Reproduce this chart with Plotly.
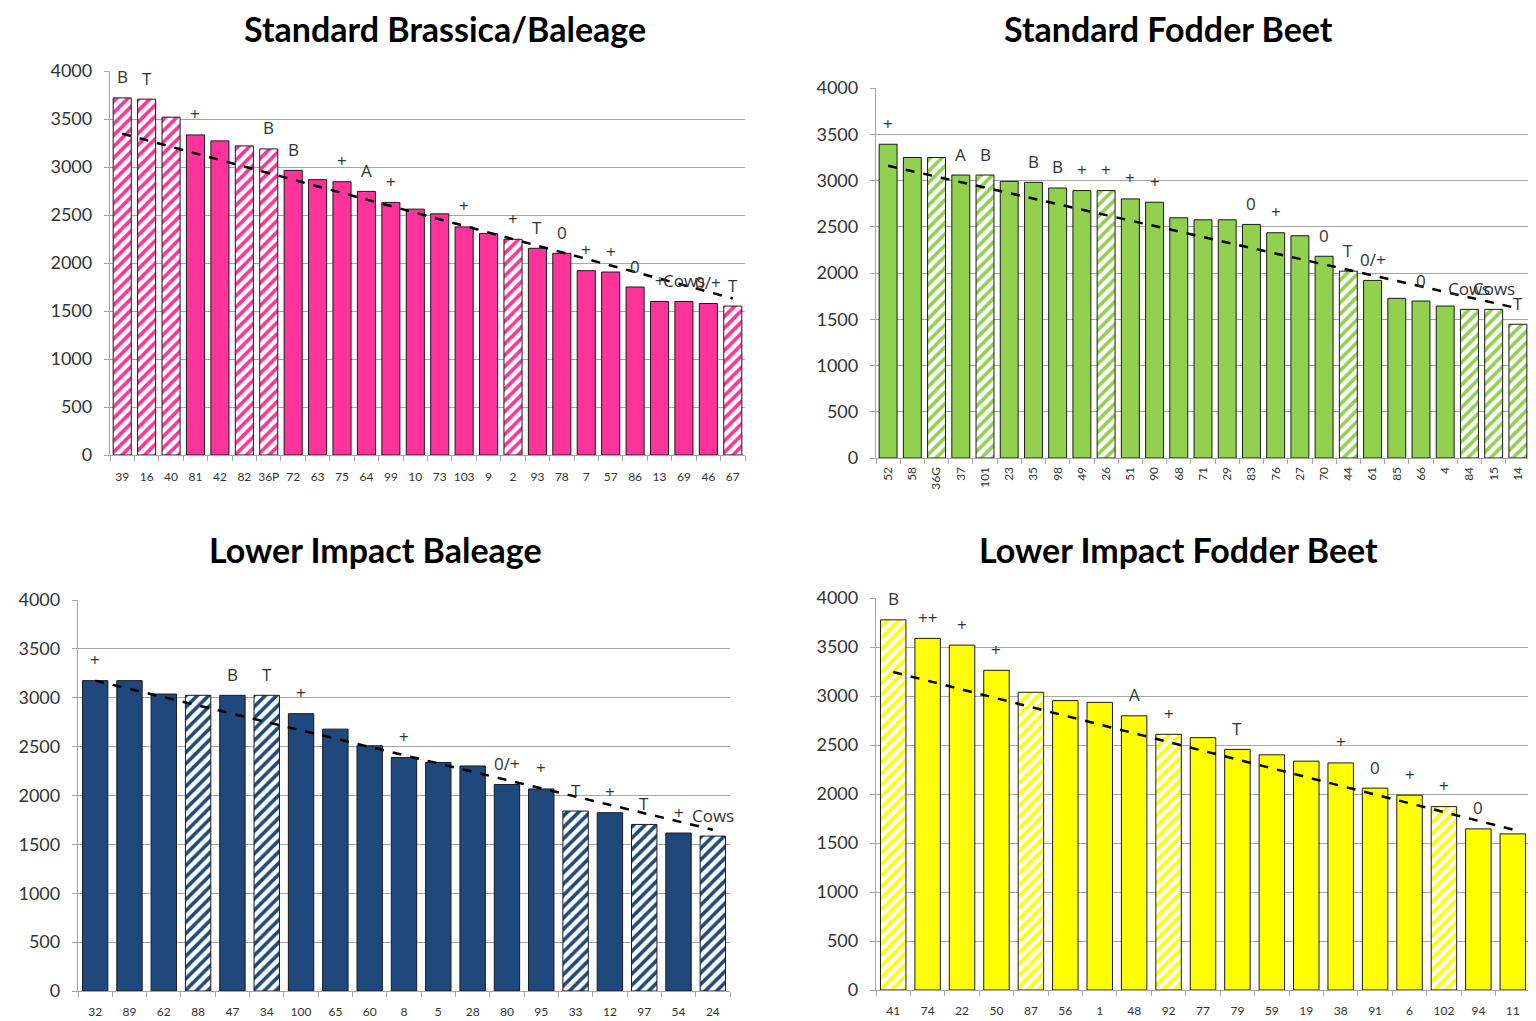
import plotly.graph_objects as go

# ---------------- data ----------------
tl_title = "Standard Brassica/Baleage"
tl_cats = ["39", "16", "40", "81", "42", "82", "36P", "72", "63", "75", "64", "99", "10",
           "73", "103", "9", "2", "93", "78", "7", "57", "86", "13", "69", "46", "67"]
tl_vals = [3720, 3707, 3519, 3334, 3272, 3220, 3188, 2965, 2868, 2847, 2746, 2631, 2561,
           2512, 2376, 2307, 2247, 2153, 2101, 1920, 1906, 1750, 1599, 1599, 1578, 1551]
tl_hatch = [1, 1, 1, 0, 0, 1, 1, 0, 0, 0, 0, 0, 0,
            0, 0, 0, 1, 0, 0, 0, 0, 0, 0, 0, 0, 1]
tl_marks = ["B", "T", "", "+", "", "", "B", "B", "", "+", "A", "+", "",
            "", "+", "", "+", "T", "0", "+", "+", "0", "+", "Cows", "0/+", "T"]
tl_trend = [3348, 1631]

tr_title = "Standard Fodder Beet"
tr_cats = ["52", "58", "36G", "37", "101", "23", "35", "98", "49", "26", "51", "90", "68", "71",
           "29", "83", "76", "27", "70", "44", "61", "85", "66", "4", "84", "15", "14"]
tr_vals = [3392, 3249, 3249, 3059, 3059, 2991, 2980, 2919, 2891, 2891, 2801, 2765, 2597, 2575,
           2575, 2525, 2435, 2403, 2181, 2020, 1920, 1726, 1697, 1643, 1607, 1607, 1446]
tr_hatch = [0, 0, 1, 0, 1, 0, 0, 0, 0, 1, 0, 0, 0, 0,
            0, 0, 0, 0, 0, 1, 0, 0, 0, 0, 1, 1, 1]
tr_marks = ["+", "", "", "A", "B", "", "B", "B", "+", "+", "+", "+", "", "",
            "", "0", "+", "", "0", "T", "0/+", "", "0", "", "Cows", "Cows", "T"]
tr_trend = [3160, 1618]

bl_title = "Lower Impact Baleage"
bl_cats = ["32", "89", "62", "88", "47", "34", "100", "65", "60", "8", "5", "28", "80",
           "95", "33", "12", "97", "54", "24"]
bl_vals = [3175, 3175, 3038, 3025, 3025, 3025, 2837, 2679, 2509, 2389, 2338, 2302, 2112,
           2067, 1841, 1824, 1704, 1616, 1585]
bl_hatch = [0, 0, 0, 1, 0, 1, 0, 0, 0, 0, 0, 0, 0,
            0, 1, 0, 1, 0, 1]
bl_marks = ["+", "", "", "", "B", "T", "+", "", "", "+", "", "", "0/+",
            "+", "T", "+", "T", "+", "Cows"]
bl_trend = [3175, 1650]

br_title = "Lower Impact Fodder Beet"
br_cats = ["41", "74", "22", "50", "87", "56", "1", "48", "92", "77", "79", "59", "19",
           "38", "91", "6", "102", "94", "11"]
br_vals = [3777, 3588, 3519, 3262, 3038, 2953, 2935, 2798, 2609, 2575, 2455, 2400, 2335,
           2317, 2060, 1988, 1871, 1644, 1593]
br_hatch = [1, 0, 0, 0, 1, 0, 0, 0, 1, 0, 0, 0, 0,
            0, 0, 0, 1, 0, 0]
br_marks = ["B", "++", "+", "+", "", "", "", "A", "+", "", "T", "", "",
            "+", "0", "+", "+", "0", ""]
br_trend = [3245, 1637]

y_ticks = [0, 500, 1000, 1500, 2000, 2500, 3000, 3500, 4000]

# ---------------- layout / styling ----------------
OX, OY = 8, 8              # page body margin compensation
W, H = 1536 - OX, 1021 - OY
FONT = "Lato"
MFONT = "Open Sans"
GRID = "#a6a6a6"
TXT = "#333333"

panels = [
    dict(title=tl_title, cats=tl_cats, vals=tl_vals, hatch=tl_hatch, marks=tl_marks, trend=tl_trend,
         color="#ff3399", px=(110, 745), py=(71, 455), tcx=445, tcy=29, angle=0, xstand=10),
    dict(title=tr_title, cats=tr_cats, vals=tr_vals, hatch=tr_hatch, marks=tr_marks, trend=tr_trend,
         color="#92d050", px=(876, 1530), py=(88, 458), tcx=1168, tcy=29, angle=-90, xstand=3),
    dict(title=bl_title, cats=bl_cats, vals=bl_vals, hatch=bl_hatch, marks=bl_marks, trend=bl_trend,
         color="#1f497d", px=(78, 730), py=(600, 991), tcx=375, tcy=549, angle=0, xstand=9),
    dict(title=br_title, cats=br_cats, vals=br_vals, hatch=br_hatch, marks=br_marks, trend=br_trend,
         color="#ffff00", px=(876, 1530), py=(598, 990), tcx=1178, tcy=549, angle=0, xstand=9),
]


def fx(x):
    return (x - OX) / W


def fy(y):
    return 1 - (y - OY) / H


fig = go.Figure()
layout = dict(width=W, height=H, margin=dict(l=0, r=0, t=0, b=0, pad=0), autosize=False,
              paper_bgcolor="white", plot_bgcolor="white", showlegend=False,
              font=dict(family=FONT, color=TXT), annotations=[])

for i, p in enumerate(panels, start=1):
    xa = "x" if i == 1 else f"x{i}"
    ya = "y" if i == 1 else f"y{i}"
    n = len(p["cats"])
    fig.add_trace(go.Bar(
        x=p["cats"], y=p["vals"], xaxis=xa, yaxis=ya,
        width=0.74,
        marker=dict(
            color=p["color"],
            line=dict(color="#1a1a1a", width=1),
            pattern=dict(shape=["/" if h else "" for h in p["hatch"]],
                         fgcolor=p["color"], bgcolor="white",
                         size=8, solidity=0.45, fillmode="replace"),
        ),
        hoverinfo="x+y",
    ))
    fig.add_trace(go.Scatter(
        x=[p["cats"][0], p["cats"][-1]], y=p["trend"], xaxis=xa, yaxis=ya,
        mode="lines", line=dict(color="black", width=2.5, dash="dash"),
        hoverinfo="skip",
    ))
    xd = [fx(p["px"][0]), fx(p["px"][1])]
    yd = [fy(p["py"][1]), fy(p["py"][0])]
    layout["xaxis" if i == 1 else f"xaxis{i}"] = dict(
        domain=xd, anchor=ya, type="category", range=[-0.5, n - 0.5],
        showline=True, linecolor=GRID, linewidth=1.3, showgrid=False,
        ticks="outside", tickson="boundaries", ticklen=5, tickcolor=GRID,
        tickangle=p["angle"], tickfont=dict(size=12, color=TXT, family=FONT),
        ticklabelstandoff=p["xstand"], fixedrange=True, automargin=False,
    )
    layout["yaxis" if i == 1 else f"yaxis{i}"] = dict(
        domain=yd, anchor=xa, range=[0, 4000], tickvals=y_ticks,
        showgrid=True, gridcolor=GRID, gridwidth=1.3, zeroline=False,
        showline=True, linecolor=GRID, linewidth=1.3,
        ticks="outside", ticklen=5, tickcolor=GRID,
        tickfont=dict(size=18, color=TXT, family=FONT),
        ticklabelstandoff=8, fixedrange=True, automargin=False,
    )
    for k, m in enumerate(p["marks"]):
        if m:
            layout["annotations"].append(dict(
                x=k, y=p["vals"][k], xref=xa, yref=ya, text=m, showarrow=False,
                yshift=21, yanchor="middle", xanchor="center",
                font=dict(size=17, color=TXT, family=MFONT),
            ))
    layout["annotations"].append(dict(
        x=fx(p["tcx"]), y=fy(p["tcy"]), xref="paper", yref="paper",
        text=f"<b>{p['title']}</b>", showarrow=False, xanchor="center", yanchor="middle",
        font=dict(size=34, color="black", family=FONT),
    ))

fig.update_layout(**layout)
fig.write_html("out.html")
